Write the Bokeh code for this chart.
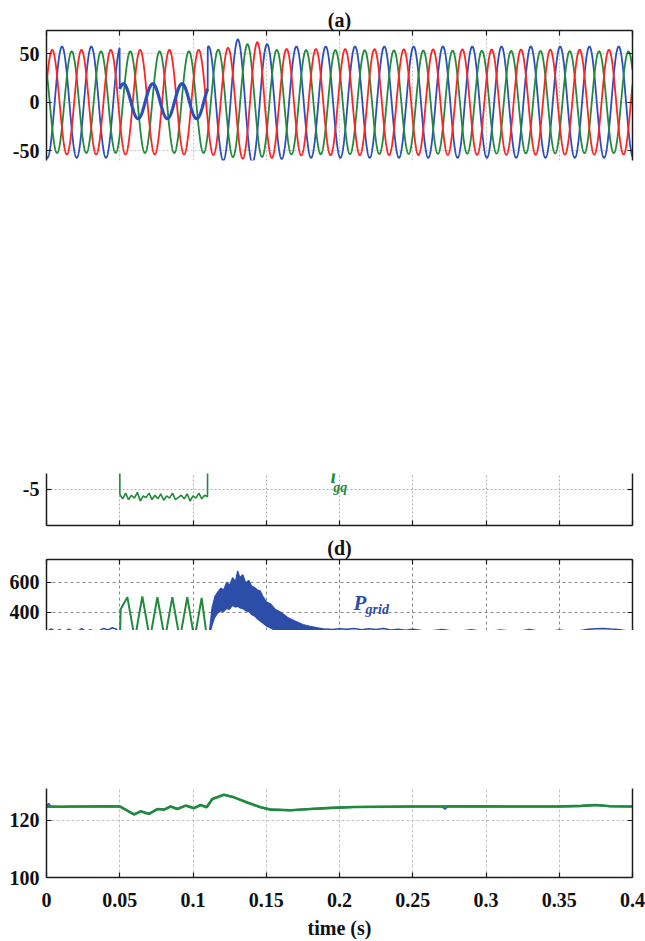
import numpy as np
from bokeh.plotting import figure
from bokeh.layouts import column
from bokeh.models import LinearAxis, FixedTicker, Range1d, Spacer, Title, CustomLabelingPolicy
from bokeh.embed import file_html
from bokeh.resources import INLINE
from bokeh.core.properties import value

# ---------------- data ----------------
x_ticks = [0, 0.05, 0.1, 0.15, 0.2, 0.25, 0.3, 0.35, 0.4]
x_tick_labels = ["0", "0.05", "0.1", "0.15", "0.2", "0.25", "0.3", "0.35", "0.4"]

# (a) three-phase currents
freq_hz = 50
peak_time_red = 0.0039
peak_time_blue = 0.0106
peak_time_green = 0.0172
env_time_red = [0, 0.11, 0.13, 0.144, 0.16, 0.4]
env_amp_red = [54, 54, 57, 62, 55, 54]
env_time_blue = [0, 0.11, 0.12, 0.1306, 0.15, 0.17, 0.4]
env_amp_blue = [57.5, 57.5, 60, 65, 60, 57.5, 57.5]
env_time_green = [0, 0.11, 0.125, 0.137, 0.155, 0.4]
env_amp_green = [52.5, 52.5, 56, 60, 54, 52.5]
fault_start, fault_end = 0.05, 0.11
blue_fault_amp = 18
blue_fault_peak_time = 0.0525
blue_fault_offset = 1.0
a_yticks = [-50, 0, 50]
a_ytick_labels = ["-50", "0", "50"]

# (c) i_gq fragment
igq_t = [0.0, 0.05, 0.0501, 0.052, 0.054, 0.056, 0.058, 0.060, 0.062, 0.064, 0.066,
         0.068, 0.070, 0.072, 0.074, 0.076, 0.078, 0.080, 0.082, 0.084, 0.086, 0.088,
         0.090, 0.092, 0.094, 0.096, 0.098, 0.100, 0.102, 0.104, 0.106, 0.108, 0.1099,
         0.11, 0.4]
igq = [0, 0, -5.7, -6.3, -5.5, -6.4, -5.8, -6.2, -5.4, -6.6, -5.9, -6.1, -5.5, -6.4,
       -5.8, -6.3, -5.6, -6.5, -5.9, -6.2, -5.5, -6.4, -6.1, -5.8, -6.3, -5.6, -6.6,
       -5.9, -6.2, -5.5, -6.3, -5.8, -6.0, 0, 0]
c_yticks = [-5, 0]
c_ytick_labels = ["-5", "0"]

# (d) powers
pg_green_t = [0.0500, 0.0506, 0.0552, 0.0603, 0.0654, 0.0706, 0.0757, 0.0808, 0.0859,
              0.0910, 0.0961, 0.1010, 0.1059, 0.1106]
pg_green = [150, 420, 500, 220, 505, 220, 500, 220, 500, 220, 500, 220, 495, 150]
pgrid_pre_t = [0, 0.003, 0.006, 0.009, 0.012, 0.015, 0.018, 0.021, 0.024, 0.027, 0.030,
               0.033, 0.036, 0.039, 0.042, 0.045, 0.048, 0.05]
pgrid_pre = [270, 288, 272, 284, 268, 286, 274, 270, 290, 271, 283, 269, 276, 292, 282,
             296, 285, 200]
pgrid_band_t = [0.111, 0.113, 0.115, 0.117, 0.119, 0.121, 0.123, 0.125, 0.127, 0.129,
                0.1305, 0.132, 0.134, 0.136, 0.138, 0.140, 0.142, 0.144, 0.146, 0.148,
                0.150, 0.153, 0.156, 0.160, 0.165, 0.170, 0.175, 0.180, 0.185, 0.190]
pgrid_upper = [250, 430, 505, 535, 560, 550, 600, 580, 630, 605, 675, 630, 650, 595, 612,
               575, 565, 548, 540, 500, 470, 455, 420, 400, 362, 340, 318, 305, 296, 288]
pgrid_lower = [200, 300, 360, 390, 405, 400, 420, 415, 440, 430, 435, 425, 420, 405, 400,
               380, 370, 350, 335, 320, 305, 290, 275, 260, 240, 230, 220, 215, 210, 210]
pgrid_post_t = [0.19, 0.195, 0.2, 0.205, 0.21, 0.215, 0.22, 0.225, 0.23, 0.235, 0.24,
                0.245, 0.25, 0.26, 0.27, 0.28, 0.29, 0.30, 0.31, 0.32, 0.33, 0.34, 0.35,
                0.36, 0.37, 0.375, 0.38, 0.385, 0.39, 0.4]
pgrid_post = [288, 284, 290, 286, 292, 283, 289, 285, 291, 282, 287, 280, 286, 272, 285,
              270, 283, 268, 282, 270, 284, 266, 281, 270, 286, 290, 292, 288, 285, 270]
d_yticks = [400, 600]
d_ytick_labels = ["400", "600"]

# (e) dc-link voltage (green and blue traces overlap)
vdc_t = [0, 0.01, 0.02, 0.03, 0.04, 0.05, 0.0597, 0.0643, 0.07, 0.0757, 0.0802, 0.0848,
         0.0893, 0.095, 0.1007, 0.1052, 0.1093, 0.1132, 0.1211, 0.128, 0.137, 0.1461,
         0.153, 0.1666, 0.18, 0.194, 0.21, 0.23, 0.25, 0.27, 0.29, 0.31, 0.33, 0.35,
         0.365, 0.375, 0.385, 0.4]
vdc_green = [124.9, 124.8, 124.9, 124.9, 125.0, 124.9, 122.1, 123.2, 122.3, 124.0, 123.8,
             124.9, 124.0, 125.2, 124.3, 125.4, 124.6, 127.5, 129.0, 128.1, 126.3, 124.6,
             123.8, 123.6, 124.0, 124.4, 124.7, 124.8, 124.9, 124.9, 125.0, 124.9, 124.9,
             124.9, 125.1, 125.4, 125.0, 124.9]
vdc_blue = vdc_green
vdc_blue_spike1_t = [0.0, 0.0015, 0.003]
vdc_blue_spike1 = [125.0, 126.0, 124.9]
vdc_blue_spike2_t = [0.27, 0.272, 0.274]
vdc_blue_spike2 = [124.9, 123.9, 124.9]
e_yticks = [100, 120, 140]
e_ytick_labels = ["100", "120", "140"]

# ---------------- styling ----------------
SERIF = "Liberation Serif"
RED, BLUE, GREEN = "#ff2424", "#2d4fbd", "#218a3b"
PBLUE = "#2d4ea8"
AX = "#1c1c1c"
W = 645
LB, RB = 46, 13

NO_LABELS = CustomLabelingPolicy(code="for (const i of indices) { indices.unset(i) }\nreturn indices")


def style_axis(ax, ticks, labels=None, standoff=7):
    ax.ticker = FixedTicker(ticks=ticks)
    ax.axis_line_color = AX
    ax.axis_line_width = 1.5
    ax.major_tick_in = 5
    ax.major_tick_out = 0
    ax.major_tick_line_color = AX
    ax.major_tick_line_width = 1.2
    ax.minor_tick_line_color = None
    if labels is not None:
        ax.major_label_text_font = SERIF
        ax.major_label_text_font_size = "20px"
        ax.major_label_text_font_style = "bold"
        ax.major_label_text_color = "#111111"
        ax.major_label_standoff = standoff
        ax.major_label_overrides = dict(zip(ticks, labels))
    else:
        ax.major_label_policy = NO_LABELS
        ax.major_label_text_font_size = "0px"
        ax.major_label_standoff = 0


def make_fig(height, yr, top, bottom, yticks, ylabels, x_loc, x_labels, grid_color, grid_dash):
    p = figure(width=W, height=height, x_range=Range1d(0, 0.4), y_range=Range1d(*yr),
               output_backend="svg", toolbar_location=None,
               min_border_left=LB, min_border_right=RB,
               min_border_top=top, min_border_bottom=bottom,
               x_axis_location=x_loc, y_axis_location="left")
    p.outline_line_color = None
    p.background_fill_color = "white"
    p.border_fill_color = "white"
    style_axis(p.xaxis[0], x_ticks, x_tick_labels if x_labels else None, standoff=15)
    style_axis(p.yaxis[0], yticks, ylabels)
    ra = LinearAxis()
    style_axis(ra, yticks, None)
    p.add_layout(ra, "right")
    p.xgrid.ticker = FixedTicker(ticks=x_ticks)
    p.ygrid.ticker = FixedTicker(ticks=yticks)
    for g in (p.xgrid, p.ygrid):
        g.grid_line_color = grid_color
        g.grid_line_dash = grid_dash
        g.grid_line_width = 1
    return p


def panel_title(text, standoff):
    return Title(text=text, align="center", text_font=SERIF, text_font_size="20px",
                 text_font_style="bold", text_color="#111111", standoff=standoff)


# ---- (a) ----
t = np.linspace(0, 0.4, 4001)
w = 2 * np.pi * freq_hz
i_red = np.interp(t, env_time_red, env_amp_red) * np.cos(w * (t - peak_time_red))
i_green = np.interp(t, env_time_green, env_amp_green) * np.cos(w * (t - peak_time_green))
i_blue = np.interp(t, env_time_blue, env_amp_blue) * np.cos(w * (t - peak_time_blue))
in_fault = (t >= fault_start) & (t <= fault_end)
i_blue[in_fault] = blue_fault_amp * np.cos(w * (t[in_fault] - blue_fault_peak_time)) + blue_fault_offset

pa = make_fig(170, (-60.3, 74.1), 30, 10, a_yticks, a_ytick_labels, "above", False, "#c4c4c4", "2 2")
pa.add_layout(panel_title("(a)", 0), "above")
pa.line(t, i_blue, line_color=BLUE, line_width=1.8)
pa.line(t, i_green, line_color=GREEN, line_width=1.8)
pa.line(t, i_red, line_color=RED, line_width=1.8)
pa.line(t[in_fault], i_blue[in_fault], line_color=BLUE, line_width=3.2)

# ---- (c) fragment ----
pc = make_fig(60, (-10, -2.78), 0, 8, c_yticks, c_ytick_labels, "below", False, "#b0b0b0", "2 2")
pc.line(igq_t, igq, line_color=GREEN, line_width=1.6)
pc.text(x=[0.1938], y=[-3.19], text=["i"], text_font=value(SERIF), text_font_style="bold italic",
        text_font_size="20px", text_color=GREEN, text_baseline="alphabetic")
pc.text(x=[0.1958], y=[-4.79], text=["gq"], text_font=value(SERIF), text_font_style="bold italic",
        text_font_size="14px", text_color=GREEN, text_baseline="alphabetic")

# ---- (d) fragment ----
pd_ = make_fig(97, (278, 751), 26, 0, d_yticks, d_ytick_labels, "above", False, "#8a8a8a", "3 3")
pd_.add_layout(panel_title("(d)", 2), "above")
pd_.line(pgrid_pre_t, pgrid_pre, line_color=PBLUE, line_width=1.5)
pd_.varea(x=pgrid_band_t, y1=pgrid_lower, y2=pgrid_upper, fill_color=PBLUE)
pd_.line(pgrid_band_t, pgrid_upper, line_color=PBLUE, line_width=1.2)
pd_.line(pgrid_post_t, pgrid_post, line_color=PBLUE, line_width=1.5)
pd_.line(pg_green_t, pg_green, line_color=GREEN, line_width=2)
pd_.text(x=[0.2095], y=[458], text=["P"], text_font=value(SERIF), text_font_style="bold italic",
         text_font_size="21px", text_color=PBLUE, text_baseline="alphabetic")
pd_.text(x=[0.2178], y=[415], text=["grid"], text_font=value(SERIF), text_font_style="bold italic",
         text_font_size="14px", text_color=PBLUE, text_baseline="alphabetic")

# ---- (e) fragment ----
pe = make_fig(153, (100, 131.2), 0, 64, e_yticks, e_ytick_labels, "below", True, "#c4c4c4", "3 2")
pe.xaxis.axis_label = "time (s)"
pe.xaxis.axis_label_text_font = SERIF
pe.xaxis.axis_label_text_font_size = "20px"
pe.xaxis.axis_label_text_font_style = "bold"
pe.xaxis.axis_label_text_color = "#111111"
pe.xaxis.axis_label_standoff = 7
pe.line(vdc_t, vdc_blue, line_color=BLUE, line_width=2)
pe.line(vdc_blue_spike1_t, vdc_blue_spike1, line_color=BLUE, line_width=1.5)
pe.line(vdc_blue_spike2_t, vdc_blue_spike2, line_color=BLUE, line_width=1.5)
pe.line(vdc_t, vdc_green, line_color=GREEN, line_width=2.6)

layout = column(pa, Spacer(width=W, height=303), pc, pd_, Spacer(width=W, height=158), pe)

open("out.html", "w").write(file_html(layout, INLINE))
